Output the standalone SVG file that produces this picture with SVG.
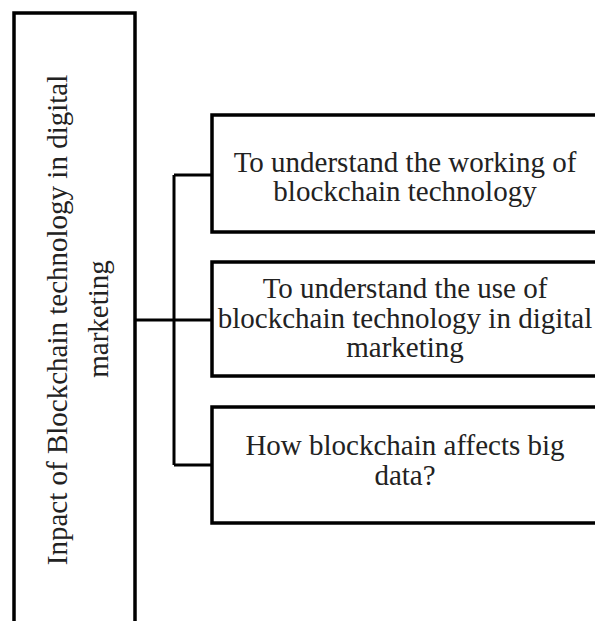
<svg xmlns="http://www.w3.org/2000/svg" width="595" height="621" viewBox="0 0 595 621">
  <style>
    .box { fill: #ffffff; stroke: #000000; stroke-width: 3.5; }
    .link { fill: none; stroke: #000000; stroke-width: 3; }
    .label { font-family: "Liberation Serif", "Times New Roman", serif; font-size: 29px; fill: #222222; text-anchor: middle; }
  </style>
  <rect width="595" height="621" fill="#ffffff"/>

  <!-- main topic, vertical title -->
  <g id="topic">
    <rect class="box" x="14" y="13" width="121" height="640"/>
    <text class="label" transform="translate(67,320) rotate(-90)">Inpact of Blockchain technology in digital</text>
    <text class="label" transform="translate(108,319) rotate(-90)">marketing</text>
  </g>

  <!-- bracket connectors -->
  <g id="connectors">
    <path class="link" d="M135,320 H212"/>
    <path class="link" d="M174,175 V465"/>
    <path class="link" d="M174,175 H212"/>
    <path class="link" d="M174,465 H212"/>
  </g>

  <g id="objective-1">
    <rect class="box" x="212" y="115" width="390" height="117"/>
    <text class="label" x="405" y="172">To understand the working of</text>
    <text class="label" x="405" y="201">blockchain technology</text>
  </g>

  <g id="objective-2">
    <rect class="box" x="212" y="262" width="390" height="114"/>
    <text class="label" x="405" y="298">To understand the use of</text>
    <text class="label" x="405" y="328">blockchain technology in digital</text>
    <text class="label" x="405" y="357">marketing</text>
  </g>

  <g id="objective-3">
    <rect class="box" x="212" y="407" width="390" height="116"/>
    <text class="label" x="405" y="455">How blockchain affects big</text>
    <text class="label" x="405" y="485">data?</text>
  </g>
</svg>
